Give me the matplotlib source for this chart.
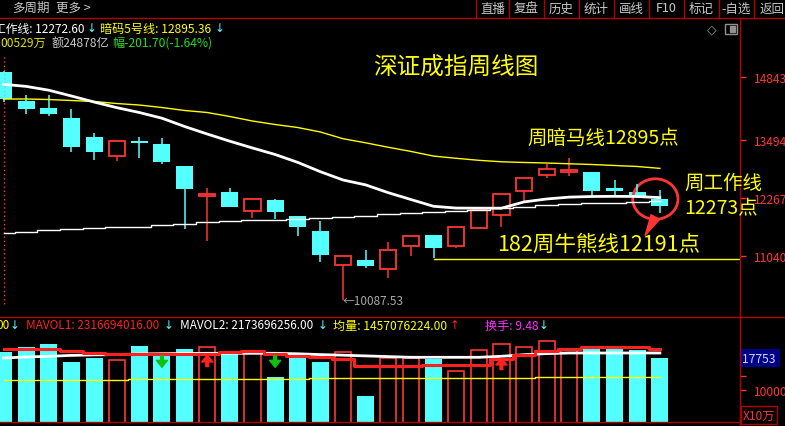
import numpy as np
import matplotlib.pyplot as plt
from matplotlib.patches import Ellipse, Rectangle
from matplotlib.lines import Line2D
import matplotlib.transforms as mtransforms

plt.rcParams['font.family'] = ['Noto Sans CJK SC', 'DejaVu Sans']

W, H = 785, 427
RED = '#ff3535'
CYAN = '#54ffff'
YEL = '#ffff00'
FRAME = '#b00000'
GRAY = '#c8c8c8'

# weekly candles (深证成指)
opens = [14949, 14333, 14178, 13965, 13561, 13151, 13477, 13413, 12945, 12314,
         12393, 11983, 12223, 11883, 11564, 10835, 10948, 10750, 11252, 11479,
         11252, 11634, 11910, 12408, 12748, 12811, 12824, 12478, 12393, 12244]
closes = [14369, 14156, 14050, 13355, 13249, 13477, 13440, 13037, 12463, 12350,
          12080, 12238, 11974, 11655, 11060, 11026, 10827, 11160, 11451, 11209,
          11643, 12017, 12344, 12684, 12875, 12860, 12420, 12420, 12299, 12097]
highs = [14970, 14454, 14454, 14156, 13646, 13477, 13561, 13540, 12945, 12478,
         12478, 12265, 12244, 11883, 11777, 11026, 11160, 11337, 11451, 11479,
         11643, 12017, 12344, 12684, 12988, 13115, 12824, 12648, 12556, 12442]
lows = [14312, 14057, 14014, 13249, 13079, 13058, 13122, 12994, 11613, 11358,
        12080, 11847, 11819, 11464, 10912, 10087.53, 10771, 10572, 11039, 10997,
        11209, 11607, 11655, 12187, 12690, 12726, 12301, 12314, 12301, 11953]

# indicator lines
work_line = [14681, 14637, 14556, 14433, 14305, 14186, 14082, 13961, 13785, 13625,
             13472, 13328, 13190, 13022, 12824, 12648, 12544, 12378, 12233, 12089,
             12051, 12049, 12049, 12182, 12244, 12284, 12297, 12300, 12297, 12273]
dark5_line = [14369, 14369, 14358, 14337, 14316, 14273, 14241, 14188, 14125, 14082,
              13997, 13901, 13827, 13763, 13668, 13525, 13438, 13343, 13255, 13156,
              13109, 13066, 13035, 13020, 13009, 12992, 12977, 12956, 12935, 12895]
bull_bear = [11521, 11551, 11583, 11613, 11628, 11643, 11658, 11687, 11719, 11751,
             11770, 11789, 11806, 11823, 11840, 11859, 11891, 11921, 11951, 11961,
             11991, 12019, 12049, 12076, 12106, 12133, 12157, 12165, 12180, 12191]
support_start = 19
support_level = 10965

# volume (X10万)
vols = [19207, 20419, 21146, 16784, 17754, 17269, 20661, 18238, 19934, 20419,
        19450, 19207, 13150, 18238, 16784, 19207, 8546, 17754, 17754, 17511,
        14604, 19692, 21146, 20419, 21873, 19692, 19934, 20177, 19692, 17753]
mavol1 = [19934, 19983, 20007, 19401, 19014, 18723, 18723, 18674, 18650, 18650,
          19256, 19377, 18747, 18359, 18093, 17390, 15888, 15888, 15888, 16058,
          16106, 16130, 17511, 18481, 19450, 19813, 20370, 20370, 20298, 20007]
mavol2 = [17753, 17996, 18166, 18384, 18505, 18577, 18723, 18795, 18844, 18892,
          18892, 18892, 18892, 18771, 18577, 18432, 18262, 18093, 17923, 17923,
          17923, 17923, 18166, 18553, 18820, 18965, 18965, 18965, 18965, 18965]
avg_vol = [12496] * 6 + [12738] * 8 + [12980] * 10 + [13223] * 6
sig_down = [7, 12]
sig_up = [9, 22]

price_ticks = [11040, 12267, 13494, 14843]
menu = ['直播', '复盘', '历史', '统计', '画线', 'F10', '标记', '-自选', '返回']
menu_sep = [476, 509, 544, 579, 614, 649, 684, 719, 754, 790]

o, c, h, l = map(np.array, (opens, closes, highs, lows))
idx = np.arange(len(o))
up = c >= o
dn = ~up
v = np.array(vols)

fig = plt.figure(figsize=(W / 100, H / 100), dpi=100)
fig.patch.set_facecolor('black')


def fx(x):
    return x / W


def fy(y):
    return 1 - y / H


def ftext(x, y, s, **kw):
    kw.setdefault('va', 'center')
    fig.text(fx(x), fy(y), s, **kw)


def fline(x0, y0, x1, y1, color=FRAME, lw=1):
    fig.add_artist(Line2D([fx(x0), fx(x1)], [fy(y0), fy(y1)], color=color, lw=lw,
                          transform=fig.transFigure))


# price panel
ax1 = fig.add_axes([0, fy(317.5), fx(740), (317.5 - 48) / H])
ax1.set_facecolor('black')
ax1.set_xlim(-0.155, 32.54)
ax1.set_ylim(9747, 15474)
for s in ax1.spines.values():
    s.set_visible(False)
ax1.set_xticks([])
ax1.yaxis.tick_right()
ax1.set_yticks(price_ticks)
ax1.tick_params(axis='y', colors=RED, length=4, width=1, labelsize=8.7, pad=6)

ax1.axvline(0, ymin=0.045, ymax=0.975, color=RED, ls=(0, (1, 2)), lw=1)

ax1.vlines(idx[dn], l[dn], h[dn], color=CYAN, lw=1.1)
ax1.bar(idx[dn], o[dn] - c[dn], bottom=c[dn], width=0.75, color=CYAN)
ax1.vlines(idx[up], l[up], o[up], color=RED, lw=1.1)
ax1.vlines(idx[up], c[up], h[up], color=RED, lw=1.1)
ax1.bar(idx[up], c[up] - o[up], bottom=o[up], width=0.72, facecolor='black',
        edgecolor=RED, lw=1.3)

ax1.plot(idx, dark5_line, color=YEL, lw=1)
ax1.plot(idx, bull_bear, color='white', lw=1, drawstyle='steps-mid')
ax1.plot(idx, work_line, color='white', lw=2)
ax1.plot([support_start, 40], [support_level] * 2, color=YEL, lw=1)

low_i = int(np.argmin(l))
ax1.text(low_i, l[low_i], '←%.2f' % l[low_i], color='#a8a8a8', fontsize=8.5,
         ha='left', va='center')

last = len(o) - 1
ax1.add_patch(Ellipse((last - 0.2, work_line[-1] - 30), 2.0, 860, fill=False,
                      edgecolor=RED, lw=2))
ax1.annotate('', xy=(last - 0.65, 11470), xytext=(last - 0.2, 11860),
             arrowprops=dict(arrowstyle='wedge,tail_width=0.7', color=RED,
                             shrinkA=0, shrinkB=0))

# volume panel
ax2 = fig.add_axes([0, fy(423), fx(740), (423 - 317.5) / H])
ax2.set_facecolor('black')
ax2.set_xlim(-0.155, 32.54)
ax2.set_ylim(2246, 27809)
for s in ax2.spines.values():
    s.set_visible(False)
ax2.set_xticks([])
ax2.yaxis.tick_right()
ax2.set_yticks([10000, 13465], labels=['10000', ''])
ax2.tick_params(axis='y', colors=RED, length=4, width=1, labelsize=8.7, pad=6)

ax2.bar(idx[dn], v[dn], width=0.75, color=CYAN)
ax2.bar(idx[up], v[up], width=0.72, facecolor='black', edgecolor=RED, lw=1.2)
ax2.plot(idx, avg_vol, color=YEL, lw=1, drawstyle='steps-mid')
ax2.plot(idx, mavol2, color='white', lw=2)
ax2.plot(idx, mavol1, color='#ff2020', lw=2.2, drawstyle='steps-mid')

for i in sig_down:
    ax2.annotate('', xy=(i, 15500), xytext=(i, 18300),
                 arrowprops=dict(width=2, headwidth=8, headlength=5, shrink=0,
                                 color='#10c010'))
for i, top in zip(sig_up, [18480, 17750]):
    ax2.annotate('', xy=(i, top), xytext=(i, top - 2800),
                 arrowprops=dict(width=2, headwidth=8, headlength=5, shrink=0,
                                 color='#ff2020'))

tr = mtransforms.blended_transform_factory(ax2.transAxes, ax2.transData)
ax2.text(1.003, vols[-1], '17753 ', transform=tr, color='#c8dcff', fontsize=8.7,
         ha='left', va='center', clip_on=False,
         bbox=dict(facecolor='#000088', edgecolor='none', pad=1.5))

# frame lines
fline(0, 19, W, 19)
fline(740, 19, 740, H)
fline(0, 317.5, W, 317.5)
fline(0, 423, 740, 423)
for x in menu_sep[:-1]:
    fline(x, 0, x, 19)

# top menu
ftext(12, 8, '多周期', color=GRAY, fontsize=9)
ftext(56, 8, '更多 >', color=GRAY, fontsize=9)
for lab, a, b in zip(menu, menu_sep[:-1], menu_sep[1:]):
    ftext((a + b) / 2, 9, lab, color=GRAY, fontsize=9, ha='center')
ftext(712, 30, '◇', color='#909090', fontsize=9, ha='center', family='DejaVu Sans')
fig.add_artist(Rectangle((fx(725), fy(35)), 12 / W, 10 / H, fill=False,
                         edgecolor='#909090', lw=1, transform=fig.transFigure))
fig.add_artist(Rectangle((fx(730), fy(33)), 5 / W, 6 / H, color='#909090',
                         transform=fig.transFigure))

# info rows
ftext(-6, 29, '工作线: 12272.60', color='white', fontsize=8.5)
ftext(92, 29, '↓', color=CYAN, fontsize=8.5, ha='center', family='DejaVu Sans')
ftext(100, 29, '暗码5号线: 12895.36', color=YEL, fontsize=8.7)
ftext(220, 29, '↓', color=CYAN, fontsize=8.5, ha='center', family='DejaVu Sans')
ftext(0, 43, '00529万', color='#e0e000', fontsize=8.7)
ftext(52, 43, '额24878亿', color=GRAY, fontsize=8.7)
ftext(112, 43, '幅-201.70(-1.64%)', color='#20e020', fontsize=8.7)

# volume header
ftext(-4, 326, '00', color=YEL, fontsize=8.5)
ftext(15, 326, '↓', color=CYAN, fontsize=8.5, ha='center', family='DejaVu Sans')
ftext(26, 326, 'MAVOL1: 2316694016.00', color='#ff2020', fontsize=8.5)
ftext(169, 326, '↓', color=CYAN, fontsize=8.5, ha='center', family='DejaVu Sans')
ftext(180, 326, 'MAVOL2: 2173696256.00', color='white', fontsize=8.5)
ftext(323, 326, '↓', color=CYAN, fontsize=8.5, ha='center', family='DejaVu Sans')
ftext(333, 326, '均量: 1457076224.00', color=YEL, fontsize=8.7)
ftext(455, 326, '↑', color='#ff2020', fontsize=8.5, ha='center', family='DejaVu Sans')
ftext(485, 326, '换手: 9.48', color='#ff30ff', fontsize=8.7)
ftext(544, 326, '↓', color=CYAN, fontsize=8.5, ha='center', family='DejaVu Sans')
fig.text(fx(743), fy(416), 'X10万', color=RED, fontsize=8.7, va='center',
         bbox=dict(facecolor='black', edgecolor=FRAME, pad=1.5))

# annotations
ftext(456, 68, '深证成指周线图', color=YEL, fontsize=17, ha='center')
ftext(527, 138, '周暗马线12895点', color=YEL, fontsize=14)
ftext(684, 183, '周工作线', color=YEL, fontsize=14)
ftext(684, 209, '12273点', color=YEL, fontsize=14)
ftext(497, 245, '182周牛熊线12191点', color=YEL, fontsize=15.5)

fig.savefig('out.png', dpi=100, facecolor='black')
